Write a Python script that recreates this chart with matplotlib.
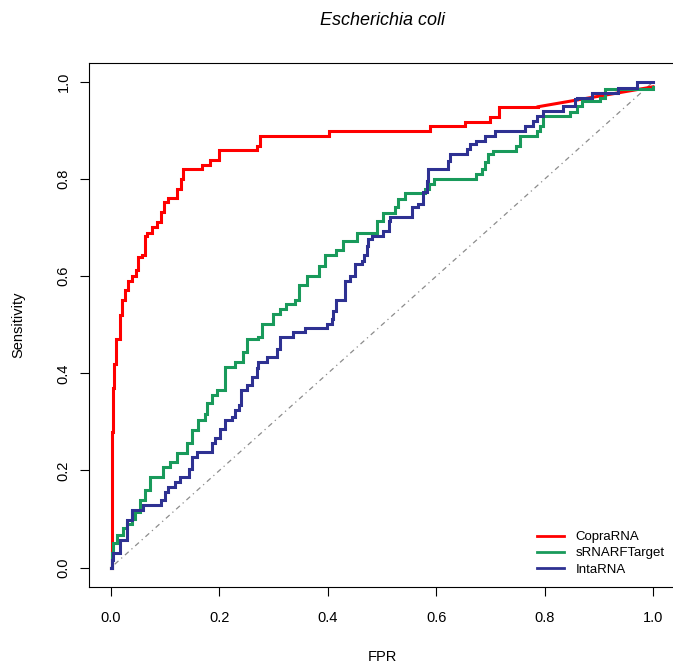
import matplotlib
matplotlib.use("Agg")
import matplotlib.pyplot as plt
from matplotlib.ticker import FormatStrFormatter

plt.rcParams['font.family'] = ['Liberation Sans', 'DejaVu Sans']

# ROC curves: (fpr, tpr) where tpr jumps to the new level
copra_fpr = [0.0, 0.001, 0.0015, 0.002, 0.003, 0.005, 0.010, 0.016, 0.020, 0.026, 0.032,
             0.038, 0.046, 0.050, 0.058, 0.062, 0.066, 0.075, 0.084, 0.092, 0.098, 0.106,
             0.121, 0.129, 0.1335, 0.167, 0.183, 0.200, 0.269, 0.275, 0.403, 0.589, 0.653,
             0.699, 0.715, 0.788]
copra_tpr = [0.0, 0.06, 0.20, 0.28, 0.37, 0.42, 0.47, 0.52, 0.551, 0.571, 0.591,
             0.601, 0.612, 0.639, 0.643, 0.682, 0.690, 0.702, 0.711, 0.732, 0.752, 0.761,
             0.780, 0.800, 0.820, 0.829, 0.840, 0.860, 0.868, 0.889, 0.899, 0.910, 0.918,
             0.928, 0.949, 0.949]
copra_tail_fpr = [0.788, 1.0]
copra_tail_tpr = [0.949, 0.99]

srnarf_fpr = [0.0, 0.002, 0.004, 0.0105, 0.023, 0.030, 0.038, 0.044, 0.0535, 0.063, 0.072,
              0.0965, 0.109, 0.121, 0.140, 0.149, 0.161, 0.173, 0.177, 0.186, 0.195, 0.210,
              0.229, 0.244, 0.250, 0.272, 0.278, 0.299, 0.312, 0.323, 0.339, 0.346, 0.361,
              0.384, 0.395, 0.416, 0.428, 0.453, 0.490, 0.502, 0.524, 0.530, 0.542, 0.579,
              0.587, 0.595, 0.674, 0.684, 0.690, 0.696, 0.705, 0.748, 0.755, 0.785, 0.791,
              0.797, 0.847, 0.859, 0.868, 0.902, 0.911, 1.0]
srnarf_tpr = [0.0, 0.03, 0.05, 0.067, 0.081, 0.090, 0.100, 0.115, 0.139, 0.160, 0.187,
              0.2075, 0.218, 0.236, 0.256, 0.283, 0.303, 0.317, 0.338, 0.355, 0.365, 0.413,
              0.423, 0.444, 0.471, 0.475, 0.502, 0.523, 0.533, 0.543, 0.550, 0.581, 0.601,
              0.622, 0.643, 0.653, 0.673, 0.690, 0.714, 0.731, 0.742, 0.759, 0.771, 0.780,
              0.790, 0.800, 0.810, 0.821, 0.835, 0.851, 0.858, 0.868, 0.889, 0.899, 0.910,
              0.930, 0.938, 0.951, 0.961, 0.968, 0.985, 0.99]

inta_fpr = [0.0, 0.002, 0.004, 0.0166, 0.029, 0.038, 0.059, 0.093, 0.100, 0.106, 0.118,
            0.127, 0.143, 0.149, 0.158, 0.186, 0.192, 0.201, 0.210, 0.223, 0.229, 0.237,
            0.240, 0.250, 0.260, 0.269, 0.272, 0.287, 0.306, 0.312, 0.336, 0.358, 0.398,
            0.407, 0.410, 0.416, 0.432, 0.441, 0.450, 0.463, 0.466, 0.472, 0.475, 0.481,
            0.502, 0.512, 0.514, 0.555, 0.567, 0.576, 0.583, 0.585, 0.622, 0.625, 0.656,
            0.662, 0.674, 0.690, 0.708, 0.764, 0.779, 0.785, 0.797, 0.834, 0.856, 0.859,
            0.887, 0.935, 0.970, 1.0]
inta_tpr = [0.0, 0.015, 0.030, 0.057, 0.098, 0.119, 0.129, 0.139, 0.155, 0.166, 0.177,
            0.187, 0.204, 0.228, 0.238, 0.256, 0.266, 0.286, 0.303, 0.310, 0.324, 0.334,
            0.365, 0.375, 0.392, 0.410, 0.423, 0.434, 0.451, 0.475, 0.485, 0.494, 0.502,
            0.512, 0.529, 0.550, 0.591, 0.601, 0.625, 0.632, 0.643, 0.663, 0.677, 0.683,
            0.694, 0.714, 0.721, 0.742, 0.749, 0.773, 0.797, 0.821, 0.838, 0.851, 0.862,
            0.872, 0.879, 0.889, 0.899, 0.910, 0.920, 0.930, 0.940, 0.951, 0.964, 0.968,
            0.978, 0.987, 1.0, 1.0]

labels = ['CopraRNA', 'sRNARFTarget', 'IntaRNA']
colors = ['#FF0000', '#199A5B', '#2E3192']

fig = plt.figure(figsize=(6.73, 6.66), dpi=100)
ax = fig.add_axes([0.1327, 0.1186, 0.8699, 0.7875])

# chance line
ax.plot([0, 1], [0, 1], color='#8c8c8c', lw=0.9, linestyle=(0, (1, 3, 4, 3)))

lw = 2.2
ax.plot(copra_fpr, copra_tpr, drawstyle='steps-post', color=colors[0], lw=lw,
        label=labels[0], solid_joinstyle='miter')
ax.plot(copra_tail_fpr, copra_tail_tpr, color=colors[0], lw=lw)
ax.plot(srnarf_fpr, srnarf_tpr, drawstyle='steps-post', color=colors[1], lw=lw,
        label=labels[1], solid_joinstyle='miter')
ax.plot(inta_fpr, inta_tpr, drawstyle='steps-post', color=colors[2], lw=lw,
        label=labels[2], solid_joinstyle='miter')

ax.set_xlim(-0.04, 1.04)
ax.set_ylim(-0.04, 1.04)
ticks = [0.0, 0.2, 0.4, 0.6, 0.8, 1.0]
ax.set_xticks(ticks)
ax.set_yticks(ticks)
ax.xaxis.set_major_formatter(FormatStrFormatter('%.1f'))
ax.yaxis.set_major_formatter(FormatStrFormatter('%.1f'))
ax.tick_params(axis='both', direction='out', length=6.5, width=0.8, labelsize=10.5)
ax.tick_params(axis='x', pad=11)
ax.tick_params(axis='y', pad=7, labelrotation=90)
for lab in ax.get_yticklabels():
    lab.set_verticalalignment('center')
for sp in ax.spines.values():
    sp.set_linewidth(0.8)

ax.set_title('Escherichia coli', fontsize=13, style='italic', y=1.081, va='center', pad=0)
ax.set_xlabel('FPR', fontsize=10.5, va='center')
ax.xaxis.set_label_coords(0.5, -0.133)
ax.set_ylabel('Sensitivity', fontsize=10.5, va='center')
ax.yaxis.set_label_coords(-0.122, 0.5)

leg = ax.legend(loc='upper left', bbox_to_anchor=(0.765, 0.107), frameon=False,
                fontsize=9.5, handlelength=2.0, handletextpad=0.9, labelspacing=0.3,
                borderpad=0, borderaxespad=0)
for h in leg.get_lines():
    h.set_linewidth(2.0)

fig.savefig('out.png', dpi=100)
